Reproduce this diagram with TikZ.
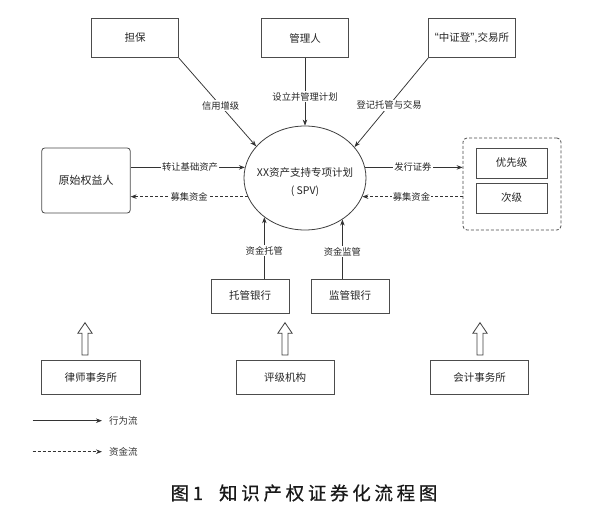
\documentclass[tikz,border=0pt]{standalone}
\usepackage{fontspec}
\setmainfont{Noto Sans CJK SC}
\newfontfamily\capfont[LetterSpace=20,FakeBold=0.5]{Noto Sans CJK SC}
\newfontfamily\latfont{Liberation Sans}
\usetikzlibrary{arrows.meta,shapes.geometric}
\tikzset{
  box/.style={draw=black!70, line width=0.8pt, minimum width=87pt, minimum height=39.4pt,
    inner sep=0pt, font=\fontsize{10.5}{12}\selectfont, text=black!85},
  flow/.style={draw=black!80, line width=0.75pt, -{Stealth[length=6pt,width=4.5pt]}},
  money/.style={flow, dash pattern=on 3pt off 2pt},
  lbl/.style={fill=white, inner sep=1.2pt, font=\fontsize{9.3}{10}\selectfont, text=black!85},
  hol/.style={draw=black!75, line width=0.8pt, fill=white},
  legtxt/.style={anchor=west, inner sep=0pt, font=\fontsize{9.5}{10}\selectfont, text=black!80},
}
\begin{document}
\begin{tikzpicture}[x=1pt,y=-1pt]
\useasboundingbox[fill=white] (0,0) rectangle (600,516);

% top row
\node[box] (db) at (135,38) {担保};
\node[box] (gl) at (305,38) {管理人};
\node[box] (zz) at (472,38) {{\latfont\fontsize{12}{12}\selectfont “}中证登{\latfont\fontsize{12}{12}\selectfont ”,}交易所};

% SPV ellipse
\node[ellipse, draw=black!75, line width=0.8pt, minimum width=122pt, minimum height=104pt,
  inner sep=0pt] (spv) at (305,178) {};
\node[align=center, inner sep=0pt, font=\fontsize{10.5}{17.7}\selectfont, text=black!85]
  (spvt) at (305,182) {XX资产支持专项计划\\( SPV)};

% left
\node[box, rounded corners=3pt, minimum width=88.5pt, minimum height=65pt,
  font=\fontsize{11}{12}\selectfont] (orig) at (86,180.5) {原始权益人};

% right container
\node[draw=black!70, line width=0.8pt, dash pattern=on 3pt off 2pt, rounded corners=4pt,
  minimum width=98pt, minimum height=92pt, inner sep=0pt] (cont) at (512,184) {};
\node[box, minimum width=71pt, minimum height=30pt] (yx) at (511.5,163) {优先级};
\node[box, minimum width=71pt, minimum height=30pt] (cj) at (511.5,198) {次级};

% banks
\node[box, minimum width=78pt, minimum height=34pt] (tg) at (250,296) {托管银行};
\node[box, minimum width=78pt, minimum height=34pt] (jg) at (350,296) {监管银行};

% bottom row
\node[box, minimum width=98.5pt, minimum height=33.5pt] (law) at (90.8,377.4) {律师事务所};
\node[box, minimum width=98.5pt, minimum height=33.5pt] (rate) at (285.2,377.4) {评级机构};
\node[box, minimum width=98.5pt, minimum height=33.5pt] (acc) at (479.5,377.4) {会计事务所};

% connectors
\draw[flow] (db.south east) -- node[lbl,pos=0.54]{信用增级} (spv.147);
\draw[flow] (gl.south) -- node[lbl,pos=0.575]{设立并管理计划} (spv.north);
\draw[flow] (zz.south west) -- node[lbl,pos=0.53]{登记托管与交易} (spv.32);

\draw[flow] (orig.east |- spv.170) -- node[lbl,pos=0.52]{转让基础资产} (spv.170);
\draw[money] (spv.198) -- node[lbl,pos=0.5]{募集资金} (orig.east |- spv.198);

\draw[flow] (spv.10) -- node[lbl,pos=0.49]{发行证券} (cont.west |- spv.10);
\draw[money] (cont.west |- spv.342) -- node[lbl,pos=0.51]{募集资金} (spv.342);

\draw[flow] (spv.224 |- tg.north) -- node[lbl,pos=0.456]{资金托管} (spv.224);
\draw[flow] (spv.312 |- jg.north) -- node[lbl,pos=0.456]{资金监管} (spv.312);

% hollow arrows
\coordinate (h1) at (85,355);
\coordinate (h2) at (285,355);
\coordinate (h3) at (480,355);
\foreach \h in {h1,h2,h3}{
  \draw[hol] (\h) ++(-3,0) -- ++(0,-21.7) -- ++(-4.2,0) -- ++(7.2,-10.6) -- ++(7.2,10.6)
    -- ++(-4.2,0) -- ++(0,21.7) -- cycle;
}

% legend
\coordinate (la) at (32.7,420.7);
\node[legtxt] (lt1) at (109,420.7) {行为流};
\draw[flow] (la) -- ([xshift=-7pt]lt1.west);
\coordinate (lb) at (32.7,451.7);
\node[legtxt] (lt2) at (109,451.7) {资金流};
\draw[money] (lb) -- ([xshift=-7pt]lt2.west);

% caption
\node[font=\capfont\fontsize{18.5}{20}\selectfont, text=black!90, inner sep=0pt] (cap)
  at (304,493) {图1\hspace{16pt}知识产权证券化流程图};
\end{tikzpicture}
\end{document}
